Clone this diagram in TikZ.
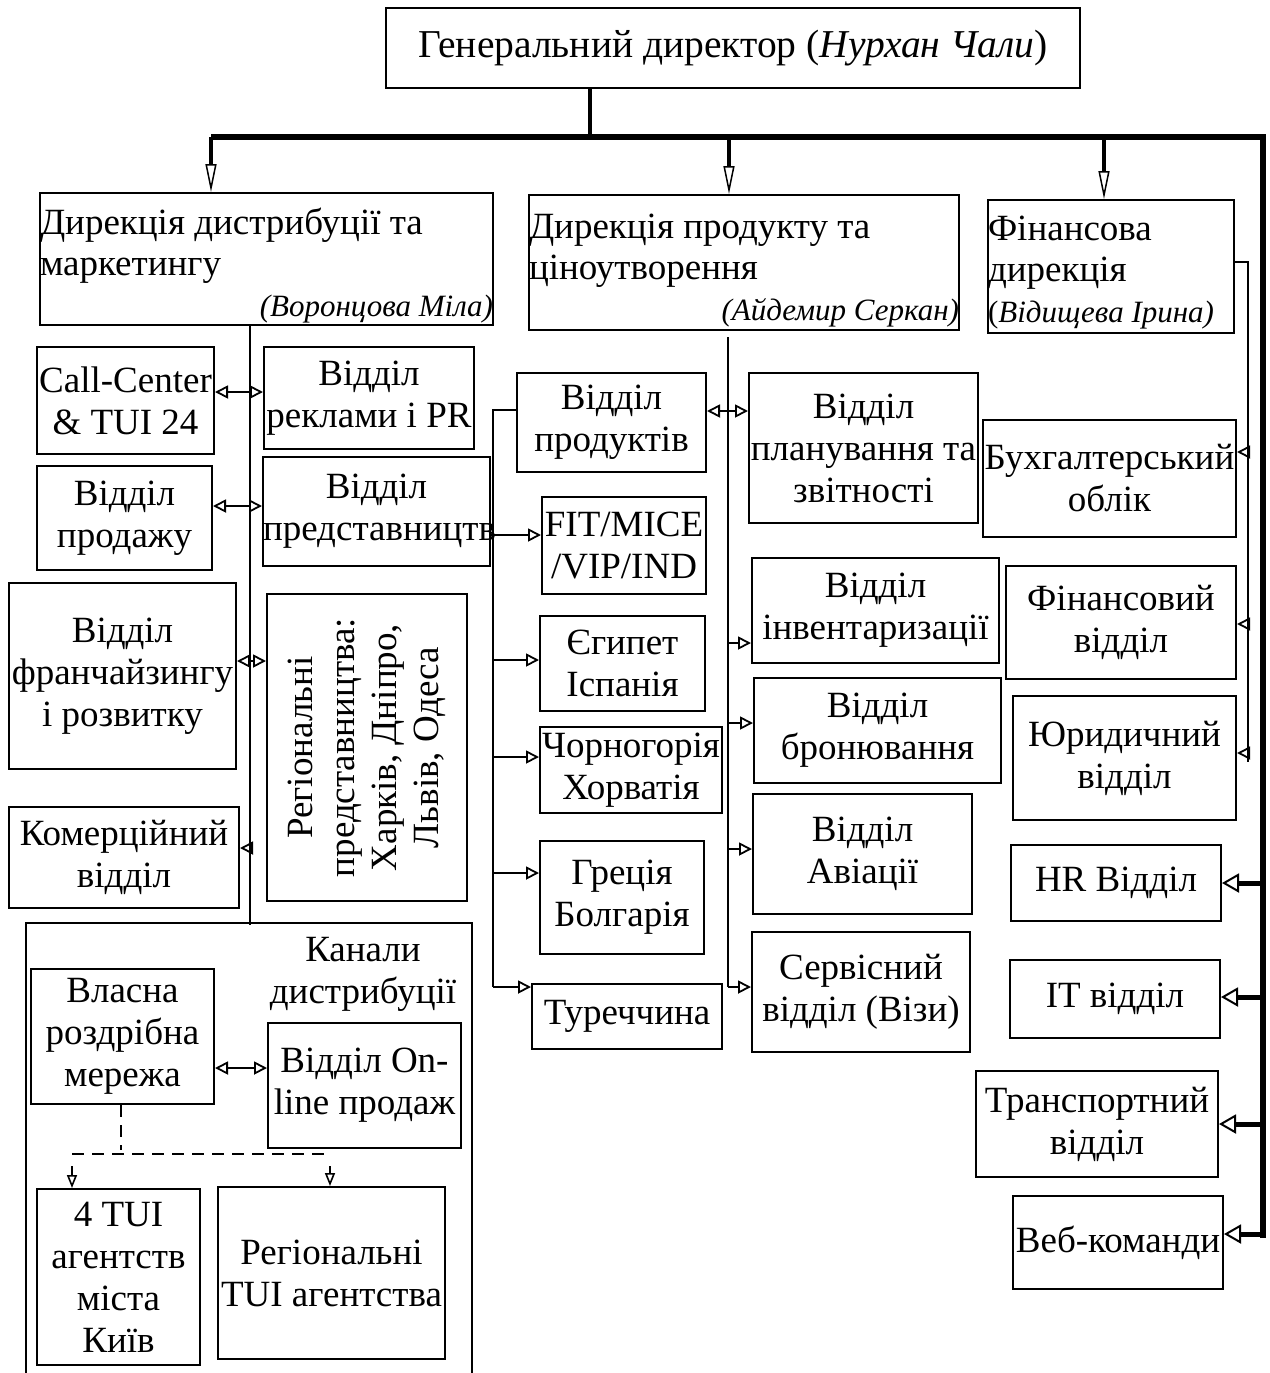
\documentclass[tikz,border=0pt]{standalone}
\usepackage{fontspec}
\setmainfont{Liberation Serif}
\usepackage{tikz}
\usetikzlibrary{arrows.meta, calc}

\begin{document}
\begin{tikzpicture}[
    x=1pt, y=-1pt,
    box/.style={rectangle, draw=black, line width=2pt, inner sep=0pt, align=flush center, font=\fontsize{37}{42}\selectfont},
    dirbox/.style={box, align=flush left, font=\fontsize{37}{41}\selectfont},
    chanframe/.style={rectangle, draw=black, line width=1.6pt, inner sep=0pt},
    link/.style={line width=2.5pt},
    arrow/.style={line width=2.5pt, -{Triangle[open, length=13pt, width=13pt, line width=1.8pt]}},
    twoway/.style={line width=2.5pt, {Triangle[open, length=13pt, width=13pt, line width=1.8pt]}-{Triangle[open, length=13pt, width=13pt, line width=1.8pt]}},
    bus/.style={line width=6pt},
    drop/.style={line width=4pt, -{Triangle[open, length=28pt, width=11pt, line width=1.5pt]}},
    side/.style={line width=5pt, -{Triangle[open, length=17pt, width=19pt, line width=2pt]}},
    dashlink/.style={line width=2pt, dashed, dash pattern=on 12pt off 8pt},
]
\useasboundingbox (0,0) rectangle (1269,1373);

% top level
\node[box, text width=694, minimum height=80, font=\fontsize{39.5}{45}\selectfont] (gd) at (733,48) {Генеральний директор (\textit{Нурхан~Чали})};

\node[dirbox, text width=453, minimum height=132] (dm) at (266.5,259) {\rule{0pt}{40pt}Дирекція дистрибуції~та\\маркетингу\\\hspace*{0pt plus 1filll}{\fontsize{31}{36}\selectfont\itshape(Воронцова~Міла)}};
\node[dirbox, text width=430, minimum height=135] (dp) at (744,262.5) {\rule{0pt}{40pt}Дирекція продукту~та\\ціноутворення\\\hspace*{0pt plus 1filll}{\fontsize{31}{36}\selectfont\itshape(Айдемир~Серкан)}};
\node[dirbox, text width=246, minimum height=133] (fd) at (1111,266.5) {\rule{0pt}{36pt}Фінансова\\дирекція\\{\fontsize{31}{36}\selectfont(\textit{Відищева~Ірина)}}};

% distribution and marketing
\node[box, text width=177, minimum height=107] (cc) at (125.5,400.5) {\mbox{Call-Center}\\\&~TUI~24};
\node[box, text width=210, minimum height=102] (pr) at (369,398) {Відділ\\реклами~і~PR};
\node[box, text width=175, minimum height=104] (sal) at (124.5,518) {Відділ\\продажу};
\node[box, text width=227, minimum height=109] (rep) at (376.5,511.5) {Відділ\\представництв};
\node[box, text width=227, minimum height=186] (fr) at (122.5,676) {Відділ\\франчайзингу\\і~розвитку};
\node[box, text width=307, minimum height=200, rotate=90] (reg) at (367,747.5) {Регіональні\\представництва:\\Харків,~Дніпро,\\Львів,~Одеса};
\node[box, text width=230, minimum height=101] (com) at (124,857.5) {Комерційний\\відділ};

% distribution channels
\node[chanframe, minimum width=446, minimum height=500] (kan) at (249,1173) {};
\node[align=center, inner sep=0pt, font=\fontsize{37}{42}\selectfont] (kanlbl) at (363,974) {Канали\\дистрибуції};
\node[box, text width=183, minimum height=135] (vl) at (122.5,1036.5) {Власна\\роздрібна\\мережа};
\node[box, text width=193, minimum height=125] (onl) at (364.5,1085.5) {Відділ~On-\\line~продаж};
\node[box, text width=163, minimum height=176] (kyiv) at (118.5,1277) {4~TUI\\агентств\\міста\\Київ};
\node[box, text width=227, minimum height=172] (rta) at (331.5,1273) {Регіональні\\TUI~агентства};

% product and pricing
\node[box, text width=189, minimum height=99] (prod) at (611.5,422.5) {Відділ\\продуктів};
\node[box, text width=164, minimum height=97] (fit) at (624,545.5) {FIT/MICE\\/VIP/IND};
\node[box, text width=165, minimum height=95] (egy) at (622.5,663.5) {Єгипет\\Іспанія};
\node[box, text width=182, minimum height=86] (cro) at (631,770) {Чорногорія\\Хорватія};
\node[box, text width=164, minimum height=113] (gre) at (622,897.5) {Греція\\Болгарія};
\node[box, text width=190, minimum height=65] (tur) at (627,1016.5) {Туреччина};
\node[box, text width=229, minimum height=150] (plan) at (863.5,448) {Відділ\\планування~та\\звітності};
\node[box, text width=247, minimum height=105] (inv) at (875.5,610.5) {Відділ\\інвентаризації};
\node[box, text width=247, minimum height=105] (bron) at (877.5,730.5) {Відділ\\бронювання};
\node[box, text width=219, minimum height=120] (avia) at (862.5,854) {Відділ\\Авіації};
\node[box, text width=218, minimum height=120] (serv) at (861,992) {Сервісний\\відділ~(Візи)};

% finance
\node[box, text width=253, minimum height=117] (bux) at (1109.5,478.5) {Бухгалтерський\\облік};
\node[box, text width=230, minimum height=113] (fin) at (1121,622.5) {Фінансовий\\відділ};
\node[box, text width=223, minimum height=124] (yur) at (1124.5,758) {Юридичний\\відділ};

% staff units
\node[box, text width=210, minimum height=76] (hr) at (1116,883) {HR~Відділ};
\node[box, text width=210, minimum height=78] (it) at (1115,999) {IT~відділ};
\node[box, text width=242, minimum height=106] (tr) at (1097,1124) {Транспортний\\відділ};
\node[box, text width=210, minimum height=93] (web) at (1118,1242.5) {\mbox{Веб-команди}};

% main bus
\coordinate (hub) at (590,137);
\coordinate (rline) at (1263,137);
\draw[line width=3.5pt] (gd.south -| hub) -- (hub);
\draw[bus] (211,137) -- (rline) -- (1263,1238);
\draw[drop] (211,137) -- (dm.north -| 211,0);
\draw[drop] (729,137) -- (dp.north -| 729,0);
\draw[drop] (1104,137) -- (fd.north -| 1104,0);

\draw[side] (rline |- hr.east) -- (hr.east);
\draw[side] (rline |- 0,997) -- (it.east |- 0,997);
\draw[side] (rline |- tr.east) -- (tr.east);
\draw[side] (rline |- 0,1234) -- (web.east |- 0,1234);

% distribution links
\coordinate (dtop) at (250,325);
\coordinate (dbot) at (250,925);
\draw[link] (dtop) -- (dbot);
\draw[twoway] (cc.east |- 0,392) -- (pr.west |- 0,392);
\draw[twoway] (sal.east |- 0,506) -- (rep.west |- 0,506);
\draw[twoway] (fr.east |- 0,661) -- (reg.north |- 0,661);
\draw[arrow] (dtop |- 0,848) -- (com.east |- 0,848);
\draw[twoway] (vl.east |- 0,1068) -- (onl.west |- 0,1068);

\coordinate (dl) at (72,1154);
\coordinate (dr) at (330,1154);
\draw[dashlink] (vl.south -| 121,0) -- (121,1150);
\draw[dashlink] (dl) -- (dr);
\draw[line width=2pt, -{Triangle[open, length=13pt, width=10pt, line width=1.6pt]}] (72,1166) -- (dl |- kyiv.north);
\draw[line width=2pt, -{Triangle[open, length=13pt, width=10pt, line width=1.6pt]}] (330,1166) -- (dr |- rta.north);

% product links
\coordinate (ptop) at (493,410);
\coordinate (pbot) at (493,987);
\draw[link] (prod.west |- ptop) -- (ptop) -- (pbot);
\draw[arrow] (pbot) -- (tur.west |- pbot);
\draw[arrow] (rep.east |- 0,535) -- (fit.west |- 0,535);
\draw[arrow] (ptop |- 0,660) -- (egy.west |- 0,660);
\draw[arrow] (ptop |- 0,757) -- (cro.west |- 0,757);
\draw[arrow] (ptop |- 0,873) -- (gre.west |- 0,873);

\coordinate (mtop) at (728,337);
\coordinate (mbot) at (728,987);
\draw[link] (mtop) -- (mbot);
\draw[twoway] (prod.east |- 0,411) -- (plan.west |- 0,411);
\draw[arrow] (mtop |- 0,643) -- (inv.west |- 0,643);
\draw[arrow] (mtop |- 0,723) -- (bron.west |- 0,723);
\draw[arrow] (mtop |- 0,849) -- (avia.west |- 0,849);
\draw[arrow] (mbot) -- (serv.west |- mbot);

% finance links
\coordinate (fline) at (1248,262);
\draw[link] (fd.east |- fline) -- (fline) -- (1248,762);
\draw[arrow] (fline |- 0,452) -- (bux.east |- 0,452);
\draw[arrow] (fline |- 0,624) -- (fin.east |- 0,624);
\draw[arrow] (fline |- 0,753) -- (yur.east |- 0,753);

\end{tikzpicture}
\end{document}
